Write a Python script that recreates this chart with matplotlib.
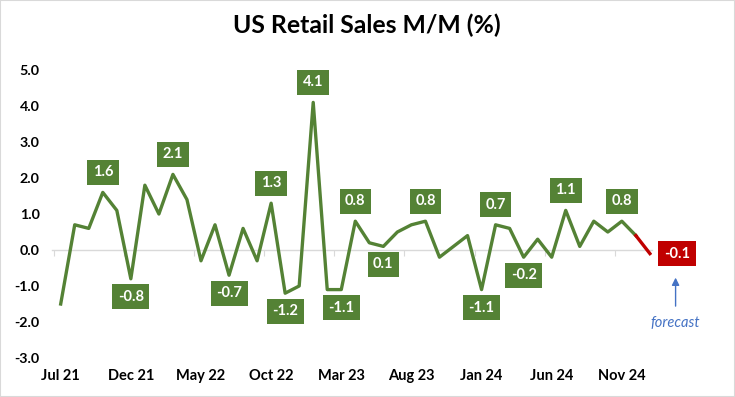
import matplotlib
matplotlib.use("Agg")
import matplotlib.pyplot as plt
import matplotlib.transforms as mtransforms
from matplotlib.patches import Rectangle
import numpy as np

# ---- data ----
values = [-1.5, 0.7, 0.6, 1.6, 1.1, -0.8, 1.8, 1.0, 2.1, 1.4, -0.3, 0.7, -0.7, 0.6,
          -0.3, 1.3, -1.2, -1.0, 4.1, -1.1, -1.1, 0.8, 0.2, 0.1, 0.5, 0.7, 0.8, -0.2,
          0.1, 0.4, -1.1, 0.7, 0.6, -0.2, 0.3, -0.2, 1.1, 0.1, 0.8, 0.5, 0.8, 0.4]
forecast_value = -0.1
tick_labels = ["Jul 21", "Dec 21", "May 22", "Oct 22", "Mar 23", "Aug 23",
               "Jan 24", "Jun 24", "Nov 24"]
labels_above = [3, 8, 15, 18, 21, 26, 31, 36, 40]
labels_below = [5, 12, 16, 20, 23, 30, 33]

GREEN = "#548235"
RED = "#C00000"
BLUE = "#4472C4"
FONT = "Lato"

plt.rcParams["font.family"] = [FONT, "DejaVu Sans"]

fig = plt.figure(figsize=(7.35, 3.97), dpi=100)
ax = fig.add_axes([52 / 735, 1 - 358 / 397, 600 / 735, 288 / 397])

x = np.arange(len(values))
fx = len(values)
ax.plot(x, values, color=GREEN, lw=2.4, zorder=3)
ax.plot([x[-1], fx], [values[-1], forecast_value], color=RED, lw=2.4, zorder=3)

ax.set_xlim(-0.62, 42.15)
ax.set_ylim(-3, 5)

# axis at zero with tick marks between categories
for s in ["left", "right", "top"]:
    ax.spines[s].set_visible(False)
ax.spines["bottom"].set_position(("data", 0))
ax.spines["bottom"].set_color("#d9d9d9")
ax.spines["bottom"].set_linewidth(1)
ax.set_xticks(np.arange(-0.5, len(values), 5))
ax.tick_params(axis="x", length=4, color="#d9d9d9", labelbottom=False)

ax.set_yticks(np.arange(-3, 5.1, 1))
ax.set_yticklabels([f"{v:.1f}" for v in np.arange(-3, 5.1, 1)])
ax.tick_params(axis="y", length=0, pad=9, labelsize=10.3)
for t in ax.get_yticklabels():
    t.set_fontweight("bold")

sec = ax.secondary_xaxis("bottom")
sec.spines["bottom"].set_visible(False)
sec.set_xticks(np.arange(0, len(values), 5))
sec.set_xticklabels(tick_labels)
sec.tick_params(length=0, pad=8, labelsize=10.5)
for t in sec.get_xticklabels():
    t.set_fontweight("bold")

LS = 10.5
box = dict(boxstyle="square,pad=0.38", fc=GREEN, ec="none")
for i in labels_above:
    ax.annotate(f"{values[i]:.1f}", (i, values[i]), xytext=(0, 14.4),
                textcoords="offset points", ha="center", va="center",
                color="white", fontsize=LS, fontweight="bold", bbox=box, zorder=5)
for i in labels_below:
    ax.annotate(f"{values[i]:.1f}", (i, values[i]), xytext=(0, -13),
                textcoords="offset points", ha="center", va="center",
                color="white", fontsize=LS, fontweight="bold", bbox=box, zorder=5)
ax.annotate(f"{forecast_value:.1f}", (fx, forecast_value), xytext=(19.5, 0),
            textcoords="offset points", ha="center", va="center",
            color="white", fontsize=LS, fontweight="bold",
            bbox=dict(boxstyle="square,pad=0.38", fc=RED, ec="none"),
            zorder=5, annotation_clip=False)

# forecast arrow and text, placed relative to the forecast point
tip = mtransforms.offset_copy(ax.transData, fig=fig, x=18.5, y=-17.3, units="points")
ax.annotate("", xy=(fx, forecast_value), xycoords=tip, xytext=(0, -20.5),
            textcoords="offset points", annotation_clip=False,
            arrowprops=dict(arrowstyle="-|>", color=BLUE, lw=1, mutation_scale=11,
                            shrinkA=0, shrinkB=0))
ax.annotate("forecast", (fx, forecast_value), xycoords=tip, xytext=(0, -33),
            textcoords="offset points", ha="center", va="center",
            color=BLUE, fontsize=10.5, fontstyle="italic", annotation_clip=False)

fig.text(0.4986, 1 - 25 / 397, "US Retail Sales M/M (%)", ha="center", va="center",
         fontsize=17.8, fontweight="bold", color="black")

fig.patches.append(Rectangle((0, 0), 1, 1, transform=fig.transFigure, fill=False,
                             edgecolor="#d9d9d9", lw=1.5))

fig.savefig("out.png", dpi=100)
